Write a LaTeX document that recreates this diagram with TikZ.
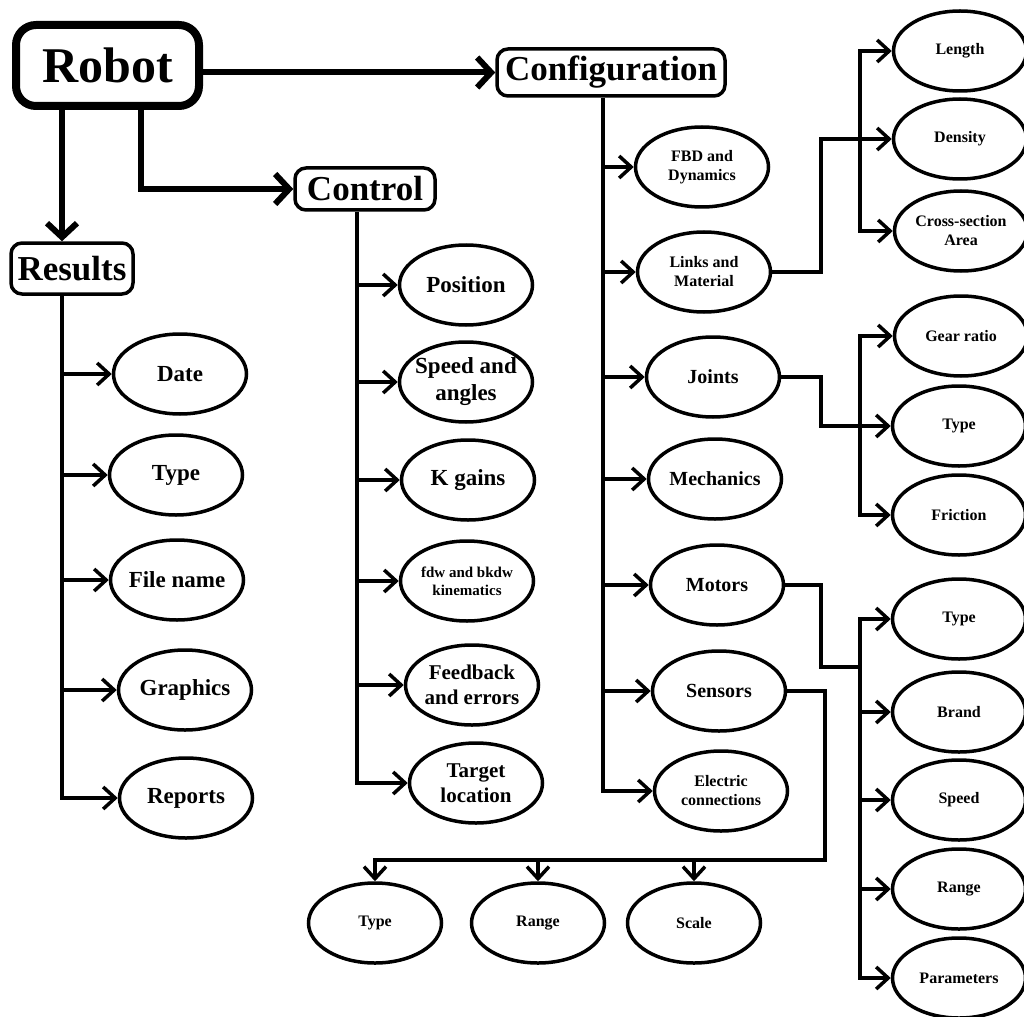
\documentclass[tikz,border=0pt]{standalone}
\usepackage{fontspec}
\setmainfont{Liberation Serif}
\usetikzlibrary{arrows.meta,shapes.geometric}

\tikzset{
  every node/.style={inner sep=0pt, font=\bfseries},
  rootbox/.style={draw, line width=8pt, rounded corners=20pt,
    minimum width=183pt, minimum height=81pt, font=\bfseries\fontsize{50}{56}\selectfont},
  headbox/.style={draw, line width=3.5pt, rounded corners=11pt,
    font=\bfseries\fontsize{35}{40}\selectfont},
  oval/.style={ellipse, draw, line width=3.5pt, minimum width=133pt,
    minimum height=80pt, inner xsep=-20pt, inner ysep=-12pt, align=center},
  big/.style={oval, font=\bfseries\fontsize{23}{27}\selectfont},
  mid/.style={oval, font=\bfseries\fontsize{20}{23}\selectfont},
  small/.style={oval, font=\bfseries\fontsize{16}{19}\selectfont},
  tiny/.style={oval, font=\bfseries\fontsize{15}{18}\selectfont},
  wire/.style={line width=3.5pt},
  arr/.style={wire, -{Straight Barb[length=12pt,width=22pt]}},
  bigarr/.style={line width=6pt, -{Straight Barb[length=14pt,width=30pt]}},
}

\begin{document}
\begin{tikzpicture}[x=1pt, y=-1pt]
\useasboundingbox (0,0) rectangle (1024,1016);

% main blocks
\node[rootbox] (robot) at (107.5,65.5) {Robot};
\node[headbox, minimum width=228pt, minimum height=47pt] (cfg) at (611,72.5) {Configuration};
\node[headbox, minimum width=140pt, minimum height=42pt] (ctl) at (365,189) {Control};
\node[headbox, minimum width=122pt, minimum height=51pt] (results) at (72,268.5) {Results};

% results column
\node[big] (date)    at (180,374) {Date};
\node[big] (rtype)   at (176,475) {Type};
\node[big] (fname)   at (177,580) {File name};
\node[big] (graph)   at (185,690) {Graphics};
\node[big] (reports) at (186,798) {Reports};

% control column
\node[big]  (pos)    at (466,285) {Position};
\node[big]  (speed)  at (466,382) {Speed and\\angles};
\node[big]  (kg)     at (468,480) {K gains};
\node[tiny] (fdw)    at (467,581) {fdw and bkdw\\kinematics};
\node[oval, font=\bfseries\fontsize{21}{25}\selectfont] (fb)     at (472,685) {Feedback\\and errors};
\node[oval, font=\bfseries\fontsize{21}{25}\selectfont] (target) at (476,783) {Target\\location};

% configuration column
\node[small] (fbd)     at (702,167) {FBD and\\Dynamics};
\node[small] (links)   at (704,272) {Links and\\Material};
\node[mid]   (joints)  at (713,377) {Joints};
\node[mid]   (mech)    at (715,479) {Mechanics};
\node[mid]   (motors)  at (717,585) {Motors};
\node[mid]   (sensors) at (719,691) {Sensors};
\node[small] (elec)    at (721,791) {Electric\\connections};

% link properties
\node[small] (length)  at (960,51)  {Length};
\node[small] (density) at (960,139) {Density};
\node[small] (cross)   at (961,231) {Cross-section\\Area};

% joint properties
\node[small] (gear)  at (961,336) {Gear ratio};
\node[small] (jtype) at (959,426) {Type};
\node[small] (fric)  at (959,515) {Friction};

% motor properties
\node[small] (mtype)  at (959,619) {Type};
\node[small] (brand)  at (959,712) {Brand};
\node[small] (mspeed) at (959,800) {Speed};
\node[small] (mrange) at (959,889) {Range};
\node[small] (params) at (959,978) {Parameters};

% sensor properties
\node[small] (stype)  at (375,923) {Type};
\node[small] (srange) at (538,923) {Range};
\node[small] (sscale) at (694,923) {Scale};

% trunk positions
\coordinate (rtrunk)  at (62,0);
\coordinate (cdrop)   at (141,0);
\coordinate (ctrunk)  at (357,0);
\coordinate (cftrunk) at (603,0);
\coordinate (bendx)   at (821,0);
\coordinate (rbus)    at (860,0);
\coordinate (mjoin)   at (860,667);
\coordinate (sbend)   at (825,860);

% robot outputs
\draw[bigarr] (robot.east |- cfg.west) -- (cfg.west);
\draw[bigarr] (robot.south -| rtrunk) -- (results.north -| rtrunk);
\draw[bigarr] (robot.south -| cdrop) |- (ctl.west);

% results tree
\draw[arr] (results.south -| rtrunk) |- (reports.west);
\foreach \n in {date,rtype,fname,graph}
  \draw[arr] (rtrunk |- \n.west) -- (\n.west);

% control tree
\draw[arr] (ctl.south -| ctrunk) |- (target.west);
\foreach \n in {pos,speed,kg,fdw,fb}
  \draw[arr] (ctrunk |- \n.west) -- (\n.west);

% configuration tree
\draw[arr] (cfg.south -| cftrunk) |- (elec.west);
\foreach \n in {fbd,links,joints,mech,motors,sensors}
  \draw[arr] (cftrunk |- \n.west) -- (\n.west);

% links and material
\draw[arr] (links.east) -| (bendx |- density.west) -- (density.west);
\draw[arr] (rbus |- density.west) |- (length.west);
\draw[arr] (rbus |- density.west) |- (cross.west);

% joints
\draw[arr] (joints.east) -| (bendx |- jtype.west) -- (jtype.west);
\draw[arr] (rbus |- jtype.west) |- (gear.west);
\draw[arr] (rbus |- jtype.west) |- (fric.west);

% motors
\draw[wire] (motors.east) -| (bendx |- mjoin) -- (mjoin);
\draw[arr] (mjoin) |- (mtype.west);
\draw[arr] (mjoin) |- (params.west);
\foreach \n in {brand,mspeed,mrange}
  \draw[arr] (rbus |- \n.west) -- (\n.west);

% sensors
\draw[arr] (sensors.east) -| (sbend) -| (stype.north);
\draw[arr] (srange.north |- sbend) -- (srange.north);
\draw[arr] (sscale.north |- sbend) -- (sscale.north);
\end{tikzpicture}
\end{document}
